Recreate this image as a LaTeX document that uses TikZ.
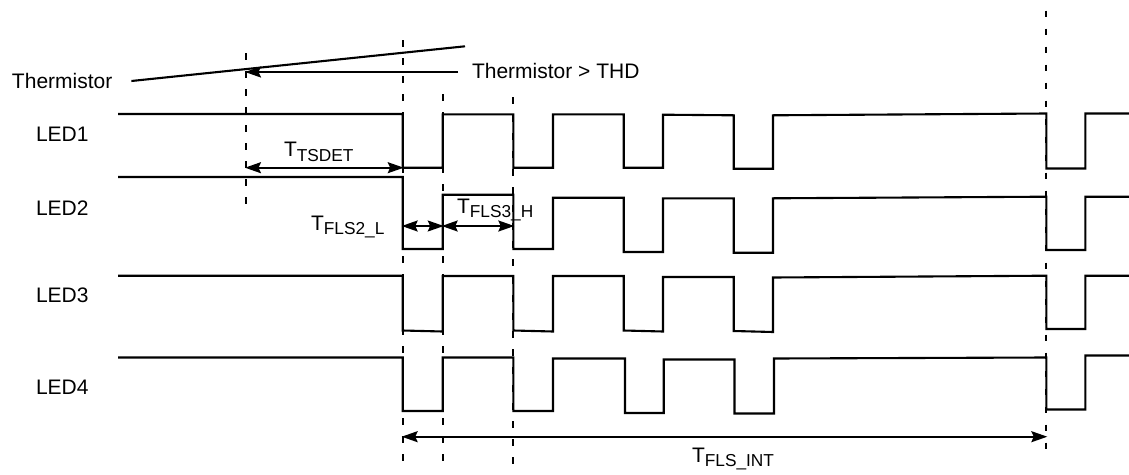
\documentclass[tikz,border=0pt]{standalone}
\usepackage{fontspec}
\setmainfont{Liberation Sans}
\usetikzlibrary{arrows.meta}
\newcommand{\tsb}[1]{T\raisebox{-4.5pt}{\fontsize{17.3}{17.3}\selectfont #1}}
\tikzset{
  x=1pt,y=-1pt,
  wave/.style={line width=2.1pt,line join=miter,black},
  guide/.style={line width=2pt,dash pattern=on 6.5pt off 11.5pt,black},
  dim/.style={line width=1.9pt,{Stealth[length=16pt,width=11pt,inset=2.5pt]}-{Stealth[length=16pt,width=11pt,inset=2.5pt]},shorten <=-1pt,shorten >=-1pt},
  oneway/.style={line width=1.9pt,-{Stealth[length=16pt,width=11pt,inset=2.5pt]},shorten >=-1pt},
  lab/.style={anchor=base west,inner sep=0pt,outer sep=0pt,font=\fontsize{21}{21}\selectfont},
}
\begin{document}
\begin{tikzpicture}
\useasboundingbox (0,0) rectangle (1129,474);
% guides
\coordinate (d0t) at (246,53);   \coordinate (d0b) at (246,210);
\coordinate (d1t) at (402.7,40); \coordinate (d1b) at (402.7,466);
\coordinate (d2t) at (442.7,94); \coordinate (d2b) at (442.7,466);
\coordinate (d3t) at (513.3,97); \coordinate (d3b) at (513.3,466);
\coordinate (d4t) at (1046.3,10.7); \coordinate (d4b) at (1046.3,452);
\draw[guide] (d0t) -- (d0b);
\draw[guide] (d1t) -- (d1b);
\draw[guide] (d2t) -- (d2b);
\draw[guide] (d3t) -- (d3b);
\draw[guide] (d4t) -- (d4b);
% thermistor
\coordinate (ths) at (131.4,81); \coordinate (the) at (465,46.3);
\draw[wave] (ths) -- (the);
\coordinate (thda) at (458,72); \coordinate (thdb) at (246,72);
\draw[oneway] (thda) -- (thdb);
% LED1
\draw[wave] (118,114) -- (402.7,114) -- (402.7,167.7) -- (442.7,167.7) -- (442.7,114.3) -- (513.3,114.3) -- (513.3,167.7) -- (553,167.7) -- (553,114.3) -- (623.7,114.3) -- (623.7,167.7) -- (663,167.7) -- (663,114.7) -- (733.7,115.3) -- (733.7,168.7) -- (773,168.7) -- (773,115.3) -- (1046.3,113.5) -- (1046.3,168.5) -- (1085.3,168.5) -- (1085.3,113.5) -- (1129,113.5);
% LED2
\draw[wave] (118,177) -- (402.7,177) -- (402.7,249) -- (442.7,249) -- (442.7,194.7) -- (513.3,194.7) -- (513.3,249) -- (553,249) -- (553,197.7) -- (623.7,197.7) -- (623.7,252) -- (663,252) -- (663,198.3) -- (733.7,198.3) -- (733.7,252.7) -- (773,252.7) -- (773,198.3) -- (1046.3,196.7) -- (1046.3,250) -- (1085.3,250) -- (1085.3,196.7) -- (1129,196.7);
% LED3
\draw[wave] (118,275.7) -- (402.7,275.7) -- (402.7,330.5) -- (442.7,331.5) -- (442.7,276) -- (513.3,276) -- (513.3,330.5) -- (553,331.5) -- (553,276) -- (623.7,276) -- (623.7,330.5) -- (663,331.5) -- (663,277) -- (733.7,277) -- (733.7,331) -- (773,332) -- (773,277.5) -- (1046.3,275.7) -- (1046.3,329) -- (1085.3,329) -- (1085.3,275.7) -- (1129,275.7);
% LED4
\draw[wave] (118,357.5) -- (402.7,357.5) -- (402.7,411) -- (442.7,411) -- (442.7,357.5) -- (513.3,357.5) -- (513.3,411) -- (553,411) -- (553,358.5) -- (625,358.5) -- (625,413) -- (663.7,413) -- (663.7,359.5) -- (734.5,359.5) -- (734.5,413.5) -- (774,413.5) -- (774,358.5) -- (1046.3,357.5) -- (1046.3,409.5) -- (1085.3,409.5) -- (1085.3,355.5) -- (1129,355.5);
% dimensions
\coordinate (a0) at (246,167.7); \coordinate (a1) at (402.7,167.7);
\draw[dim] (a0) -- (a1);
\coordinate (b1) at (402.7,226); \coordinate (b2) at (442.7,226); \coordinate (b3) at (513.3,226);
\draw[dim] (b1) -- (b2);
\draw[dim] (b2) -- (b3);
\coordinate (c1) at (402.7,436.7); \coordinate (c4) at (1046.3,436.7);
\draw[dim] (c1) -- (c4);
% labels
\node[lab] (lth) at (12,88) {Thermistor};
\node[lab] (lthd) at (472,78) {Thermistor > THD};
\node[lab] (l1) at (36,141.7) {LED1};
\node[lab] (l2) at (36,215) {LED2};
\node[lab] (l3) at (36,302.7) {LED3};
\node[lab] (l4) at (36,394) {LED4};
\node[lab] (t0) at (284,156.7) {\tsb{TSDET}};
\node[lab] (t1) at (311,230) {\tsb{FLS2\_L}};
\node[lab] (t2) at (457,213) {\tsb{FLS3\_H}};
\node[lab] (t3) at (692,462) {\tsb{FLS\_INT}};
\end{tikzpicture}
\end{document}
